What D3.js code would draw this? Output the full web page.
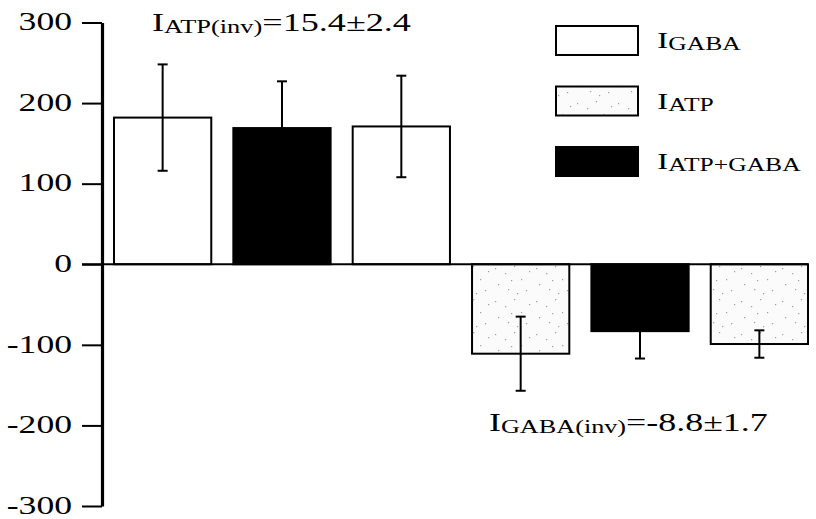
<!DOCTYPE html>
<html><head><meta charset="utf-8">
<script src="https://cdn.jsdelivr.net/npm/d3@7"></script>
<style>
body{margin:0;background:#fff}
svg{display:block}
text{font-family:"Liberation Serif","Times New Roman",serif;fill:#000}
</style>
</head><body>
<svg id="c" width="816" height="519"></svg>
<script>
// ---- data ----
const categories = ["GABA-1","ATP+GABA-1","GABA-2","ATP-1","ATP+GABA-2","ATP-2"];
const barTypes = ["GABA","ATP+GABA","GABA","ATP","ATP+GABA","ATP"];
const values = [182,169,171,-111,-83,-99];
const errors = [66,58,63,46,34,17];
const yTicks = [-300,-200,-100,0,100,200,300];
const legendKeys = ["GABA","ATP","ATP+GABA"];
const annotationSubs = ["ATP(inv)","GABA(inv)"];
const annotationValues = ["=15.4±2.4","=-8.8±1.7"];

// ---- setup ----
const svg = d3.select("#c");
const SX = 1.37; // horizontal stretch of the lettering
const y = d3.scaleLinear().domain([-300,300]).range([506,22.5]);
const x = d3.scaleBand().domain(categories).range([114,808]).paddingInner(0.185).paddingOuter(0);

// stipple pattern for ATP
const defs = svg.append("defs");
const pat = defs.append("pattern").attr("id","stip").attr("patternUnits","userSpaceOnUse")
  .attr("width",41).attr("height",33);
pat.append("rect").attr("width",41).attr("height",33).attr("fill","#fbfbfb");
const dots = [[3,4],[13,9],[22,2],[29,15],[6,20],[16,25],[34,26],[25,29],[37,7],[19,16]];
pat.selectAll("rect.d").data(dots).enter().append("rect").attr("class","d")
  .attr("x",d=>d[0]).attr("y",d=>d[1]).attr("width",1.2).attr("height",1.2).attr("fill","#a0a0a0");

const fillOf = t => t==="GABA" ? "#fff" : t==="ATP" ? "url(#stip)" : "#000";

// bars
const data = categories.map((c,i)=>({c, t:barTypes[i], v:values[i], e:errors[i]}));
svg.append("g").selectAll("rect").data(data).enter().append("rect")
  .attr("x",d=>x(d.c)).attr("width",x.bandwidth())
  .attr("y",d=>y(Math.max(0,d.v))).attr("height",d=>Math.abs(y(d.v)-y(0)))
  .attr("fill",d=>fillOf(d.t)).attr("stroke","#000").attr("stroke-width",2);

// error bars
const eg = svg.append("g").attr("stroke","#000").attr("stroke-width",2);
data.forEach(d=>{
  const cx = x(d.c)+x.bandwidth()/2;
  eg.append("line").attr("x1",cx).attr("x2",cx).attr("y1",y(d.v+d.e)).attr("y2",y(d.v-d.e));
  [d.v+d.e,d.v-d.e].forEach(val=>{
    eg.append("line").attr("x1",cx-5).attr("x2",cx+5).attr("y1",y(val)).attr("y2",y(val));
  });
});

// zero line
svg.append("line").attr("x1",82).attr("x2",808).attr("y1",y(0)).attr("y2",y(0))
  .attr("stroke","#000").attr("stroke-width",2);

// y axis
const axis = d3.axisLeft(y).tickValues(yTicks).tickSize(20).tickSizeOuter(0).tickFormat("");
const ag = svg.append("g").attr("transform","translate(102,0)").call(axis);
ag.select(".domain").attr("stroke","#000").attr("stroke-width",3.2);
ag.selectAll(".tick line").attr("stroke","#000").attr("stroke-width",2);
svg.append("g").selectAll("text").data(yTicks).enter().append("text")
  .attr("transform",d=>`translate(72,${y(d)}) scale(${SX},1)`)
  .attr("text-anchor","end").attr("dy","0.3em").attr("font-size",26)
  .text(d=>d);

// annotations
function subLabel(g, tx, ty, big, small, sub, rest, sc){
  const t = g.append("text").attr("transform",`translate(${tx},${ty}) scale(${sc},1)`);
  t.append("tspan").attr("font-size",big).text("I");
  t.append("tspan").attr("font-size",small).attr("dy",2).text(sub);
  if(rest) t.append("tspan").attr("font-size",big).attr("dy",-2).text(rest);
  return t;
}
subLabel(svg,152,31,26,19,annotationSubs[0],annotationValues[0],1.39);
subLabel(svg,489,431,26,19,annotationSubs[1],annotationValues[1],1.38);

// legend
const lg = svg.append("g");
legendKeys.forEach((k,i)=>{
  const yy = 26 + i*60.5;
  lg.append("rect").attr("x",556).attr("y",yy).attr("width",82).attr("height",29)
    .attr("fill",fillOf(k)).attr("stroke","#000").attr("stroke-width",2);
  subLabel(lg,657,yy+22,24,18,k,null,1.42);
});
</script>
</body></html>
